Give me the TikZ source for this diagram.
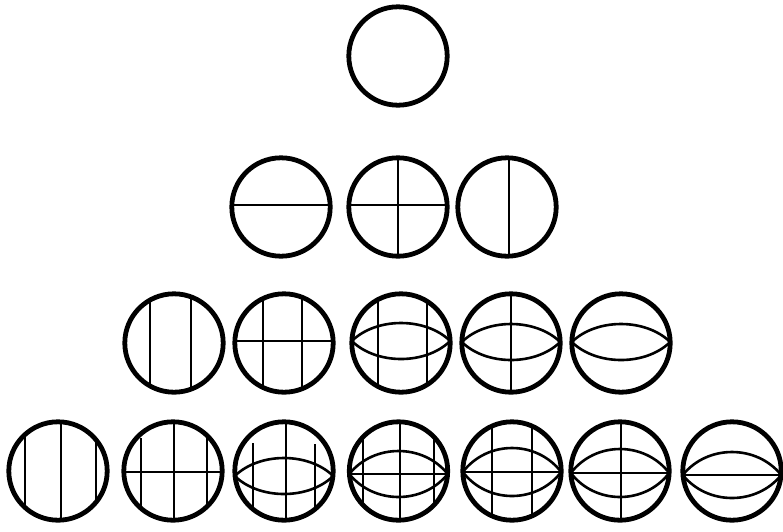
\documentclass[tikz,border=0pt]{standalone}
\tikzset{
  ring/.style={line width=4.8pt},
  inner/.style={line width=2.6pt},
}
\def\R{49.2}
\newcommand{\Vln}[1]{\draw[inner] (#1,0) -- (#1,531);}
\newcommand{\Vseg}[3]{\draw[inner] (#1,#2) -- (#1,#3);}
\newcommand{\Hln}[1]{\draw[inner] (0,#1) -- (783,#1);}
\newcommand{\Lens}[3]{%
  \draw[inner] ({#1-\R},#2) .. controls ({#1-0.5*\R},{#2-4/3*#3}) and ({#1+0.5*\R},{#2-4/3*#3}) .. ({#1+\R},#2);
  \draw[inner] ({#1-\R},#2) .. controls ({#1-0.5*\R},{#2+4/3*#3}) and ({#1+0.5*\R},{#2+4/3*#3}) .. ({#1+\R},#2);}
\newcommand{\Disc}[4]{%
  \coordinate (#1) at (#2,#3);
  \begin{scope}\clip (#1) circle[radius=\R]; #4 \end{scope}
  \draw[ring] (#1) circle[radius=\R];}
\begin{document}
\begin{tikzpicture}[x=1pt,y=-1pt]
\useasboundingbox (0,0) rectangle (783,531);
% row 1
\Disc{a1}{398}{56}{}
% row 2
\Disc{b1}{281}{207}{\Hln{205}}
\Disc{b2}{398}{207}{\Hln{205}\Vln{398}}
\Disc{b3}{507}{207}{\Vln{509}}
% row 3
\Disc{c1}{174}{343}{\Vln{150}\Vln{191}}
\Disc{c2}{284}{343}{\Vln{263}\Vln{302}\Hln{341}}
\Disc{c3}{401}{343}{\Vln{378}\Vln{427}\Lens{401}{341}{18}}
\Disc{c4}{511}{343}{\Vln{511}\Lens{511}{342}{18}}
\Disc{c5}{621}{343}{\Lens{621}{342}{18}}
% row 4
\Disc{d1}{58}{471}{\Vln{25}\Vln{61}\Vln{96}}
\Disc{d2}{173}{471}{\Vseg{141}{438}{531}\Vln{174}\Vseg{207}{0}{508}\Hln{472}}
\Disc{d3}{284}{471}{\Vseg{253}{443}{508}\Vln{286}\Vseg{315}{444}{507}\Lens{284}{476}{18}}
\Disc{d4}{398.5}{471}{\Vln{363}\Vln{400}\Vln{434}\Hln{474}\Lens{398.5}{474}{23}}
\Disc{d5}{512}{471}{\Vln{492}\Vln{532}\Hln{472}\Lens{512}{472}{24}}
\Disc{d6}{620}{471}{\Vln{621}\Hln{473}\Lens{620}{473}{24}}
\Disc{d7}{732}{471}{\Hln{475}\Lens{732}{475}{23}}
\end{tikzpicture}
\end{document}
